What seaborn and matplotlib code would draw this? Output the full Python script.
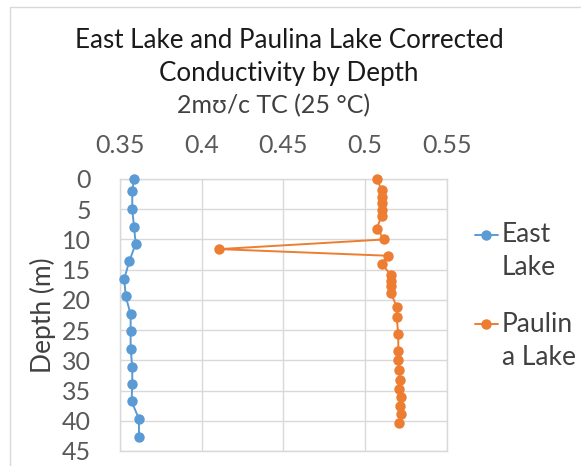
import numpy as np
import pandas as pd
import seaborn as sns
import matplotlib.pyplot as plt
from matplotlib.patches import Rectangle
from matplotlib.legend_handler import HandlerLine2D
from matplotlib.transforms import Affine2D

# East Lake profile
east_depth = [0, 2, 5, 8, 10.7, 13.6, 16.5, 19.4, 22.4, 25.2, 28.1, 31.1, 33.9, 36.8, 39.7, 42.7]
east_cond = [0.3586, 0.3575, 0.3575, 0.3586, 0.3596, 0.3557, 0.3526, 0.3535,
             0.3565, 0.3565, 0.3565, 0.3575, 0.3575, 0.3571, 0.3616, 0.3616]

# Paulina Lake profile
paulina_depth = [0, 1.8, 2.9, 4.0, 5.1, 6.1, 8.2, 10.0, 11.6, 12.7, 14.0, 15.9, 16.8, 17.7,
                 18.9, 21.1, 22.8, 25.7, 28.4, 30.0, 31.6, 33.3, 34.8, 36.1, 37.6, 38.9, 40.4]
paulina_cond = [0.5070, 0.5100, 0.5100, 0.5100, 0.5100, 0.5100, 0.5070, 0.5117, 0.4106,
                0.5141, 0.5100, 0.5157, 0.5157, 0.5157, 0.5157, 0.5192, 0.5192, 0.5202,
                0.5202, 0.5202, 0.5208, 0.5213, 0.5208, 0.5216, 0.5213, 0.5216, 0.5208]

lake_labels = ["East\nLake", "Paulin\na Lake"]
x_ticks = [0.35, 0.4, 0.45, 0.5, 0.55]
x_ticklabels = ["0.35", "0.4", "0.45", "0.5", "0.55"]
y_ticks = list(range(0, 50, 5))

df = pd.concat([
    pd.DataFrame({"Depth": east_depth, "Cond": east_cond, "Lake": lake_labels[0]}),
    pd.DataFrame({"Depth": paulina_depth, "Cond": paulina_cond, "Lake": lake_labels[1]}),
], ignore_index=True)


class FirstLineHandler(HandlerLine2D):
    # put the legend marker next to the first line of a wrapped label
    def create_artists(self, legend, orig_handle, xdescent, ydescent, width, height, fontsize, trans):
        dy = 0.65 * fontsize * legend.figure.dpi / 72
        return super().create_artists(legend, orig_handle, xdescent, ydescent, width, height,
                                      fontsize, trans + Affine2D().translate(0, dy))


sns.set_style("white")
plt.rcParams['font.family'] = ['Lato', 'DejaVu Sans']

fig = plt.figure(figsize=(5.81, 4.66), dpi=100)
ax = fig.add_axes([120/581, 1-451/466, 327/581, 272/466])

palette = {lake_labels[0]: "#5B9BD5", lake_labels[1]: "#ED7D31"}
sns.lineplot(data=df, x="Cond", y="Depth", hue="Lake", palette=palette,
             sort=False, estimator=None, orient="y", marker="o",
             markersize=7.5, markeredgewidth=0, linewidth=1.4, ax=ax)
for ln in ax.lines:
    ln.set_clip_on(False)
    ln.set_zorder(3)

ax.set_xlim(0.35, 0.55)
ax.set_ylim(45, 0)
ax.set_xticks(x_ticks)
ax.set_xticklabels(x_ticklabels)
ax.set_yticks(y_ticks)
ax.xaxis.tick_top()
ax.xaxis.set_label_position("top")
ax.tick_params(axis="both", length=0, labelsize=18, labelcolor="#595959")
ax.tick_params(axis="x", pad=16)
ax.tick_params(axis="y", pad=21)
ax.grid(True, color="#d9d9d9", linewidth=1)
for s in ax.spines.values():
    s.set_color("#d9d9d9")
    s.set_linewidth(1)

ax.set_xlabel("2mʊ/c TC (25 °C)", fontsize=18, color="#404040")
ax.xaxis.set_label_coords((274-120)/327, 1 + (179-106)/272)
ax.xaxis.label.set_va("center")
ax.set_ylabel("Depth (m)", fontsize=19, color="#404040")
ax.yaxis.set_label_coords(-(120-43)/327, 0.5)
ax.yaxis.label.set_va("center")

fig.suptitle("East Lake and Paulina Lake Corrected\nConductivity by Depth",
             x=289/581, y=1-57/466, va="center", fontsize=18.7, color="#1a1a1a",
             linespacing=1.4)

handles, labels = ax.get_legend_handles_labels()
leg = ax.legend(handles, labels, handler_map={type(handles[0]): FirstLineHandler()},
                loc="upper left", bbox_to_anchor=(475/581, 1-222/466),
                bbox_transform=fig.transFigure, frameon=False, borderpad=0, borderaxespad=0,
                fontsize=19, handlelength=0.87, handletextpad=0.15,
                labelspacing=1.2, labelcolor="#404040")
for t in leg.get_texts():
    t.set_linespacing(1.4)

fig.add_artist(Rectangle((10/581, -0.1), 1.2, 1-7/466+0.1, transform=fig.transFigure,
                         fill=False, edgecolor="#d9d9d9", linewidth=1))

fig.savefig("out.png", dpi=100)
